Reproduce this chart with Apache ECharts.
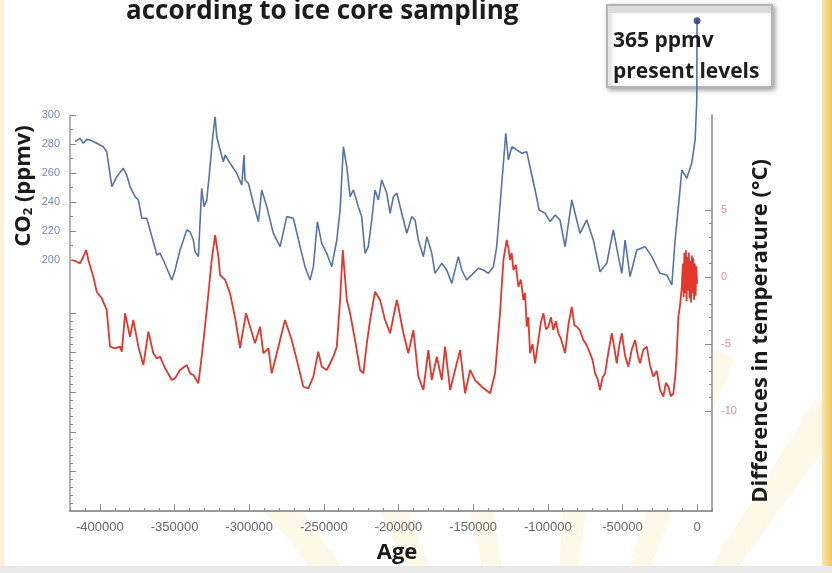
<!DOCTYPE html>
<html><head><meta charset="utf-8">
<script src="https://cdn.jsdelivr.net/npm/echarts@6/dist/echarts.min.js"></script>
<style>html,body{margin:0;padding:0;background:#fff}#c{width:832px;height:573px}</style>
</head><body><div id="c"></div>
<script>
// ---------------- DATA ----------------
const titleText = 'according to ice core sampling';
const xAxisTitle = 'Age';
const tempTitle = 'Differences in temperature (°C)';
const noteLines = ['365 ppmv', 'present levels'];
const ageTicks = [-400000, -350000, -300000, -250000, -200000, -150000, -100000, -50000, 0];
const co2TickLabels = [200, 220, 240, 260, 280, 300];
const tempTickLabels = [-10, -5, 0, 5];

const co2Ages = [-416600,-413300,-411100,-408800,-406600,-402100,-397700,-395400,-392000,-388700,
 -384300,-382000,-379800,-376400,-374200,-371900,-368600,-366400,-363000,-361900,
 -359700,-357500,-351800,-349600,-346300,-341800,-339600,-337400,-336200,-334000,
 -332900,-331800,-330200,-328400,-326200,-324400,-322800,-321700,-320000,-317300,
 -316100,-312800,-308300,-305000,-303400,-302800,-300500,-297200,-293800,-291600,
 -288200,-283800,-279300,-274800,-270400,-265900,-262600,-259200,-257000,-254300,
 -251400,-248000,-244700,-241300,-239100,-236900,-234600,-232400,-230200,-226900,
 -224600,-222400,-220200,-217900,-215700,-213500,-211200,-207800,-205600,-203400,
 -201100,-197800,-194400,-191100,-188900,-186700,-183300,-181000,-177700,-175500,
 -171000,-167700,-164300,-159900,-157600,-154300,-150900,-146500,-143100,-139800,
 -136400,-134200,-130800,-128100,-126400,-124100,-120800,-117400,-114100,-111900,
 -108500,-105800,-101800,-98500,-95100,-91800,-88400,-83900,-78400,-73900,
 -69500,-65000,-60500,-56100,-52700,-50400,-48200,-44900,-40400,-34800,
 -30300,-24800,-20300,-16900,-14700,-12500,-10200,-6900,-3600,-1300,-200,0];
const co2Values = [281.6,283.9,280.5,283.2,282.8,280.5,278.1,274.7,250.6,257.4,
 263.2,258.6,250.6,243.7,241.4,228.8,228.8,220.7,208.1,203.4,
 204.6,200.0,186.2,193.1,206.9,220.7,219.5,213.8,205.7,202.3,
 201.2,249.4,236.8,241.4,264.3,285.0,298.8,285.0,278.1,267.8,
 272.4,266.7,259.8,251.7,272.4,255.2,252.9,239.1,226.4,248.3,
 236.8,218.4,209.2,229.9,228.8,209.2,195.4,186.2,195.4,226.4,
 211.5,204.6,195.4,213.8,234.5,278.1,264.3,243.7,248.3,236.8,
 229.9,204.6,209.2,227.6,248.3,241.4,255.2,246.0,232.2,243.7,
 246.0,232.2,218.4,229.9,227.6,213.8,202.3,216.1,204.6,190.8,
 197.7,193.1,183.9,202.3,193.1,186.2,189.7,194.3,193.1,190.8,
 195.4,209.2,252.9,287.4,269.0,278.1,275.9,273.6,274.7,264.3,
 248.3,234.5,232.2,226.4,231.0,227.6,209.2,241.4,218.4,227.6,
 213.8,191.9,197.7,220.7,202.3,190.8,213.8,188.5,206.9,209.2,
 202.3,190.8,189.7,182.8,213.8,236.8,262.1,256.3,266.7,282.8,310.3,365];

const tempAges = [-418800,-415500,-413300,-411100,-409200,-407700,-404400,-402100,-398700,-395400,
 -393200,-389800,-386500,-385300,-383100,-379800,-377600,-374200,-370900,-367500,
 -364200,-361900,-359700,-356300,-351800,-349600,-346300,-341800,-339600,-337400,
 -334000,-331800,-328400,-325100,-322800,-320600,-319500,-316100,-312800,-309400,
 -306100,-302100,-299400,-296100,-292700,-290500,-287100,-284900,-281500,-276000,
 -271500,-267000,-263700,-260400,-257000,-253700,-251400,-248000,-243600,-241300,
 -239100,-237300,-234600,-232400,-229100,-225700,-223500,-221200,-219000,-215700,
 -212300,-209000,-205600,-201100,-200100,-196700,-193400,-190000,-186700,-183300,
 -180000,-177700,-174300,-171000,-168800,-165400,-162100,-158700,-155400,-152000,
 -148700,-144200,-138600,-135300,-132000,-129700,-127500,-126400,-125300,-124200,
 -123000,-121400,-119700,-118000,-116300,-115200,-114100,-113000,-111900,-110200,
 -108500,-107400,-106300,-104600,-102900,-101200,-99600,-97900,-96300,-94600,
 -92900,-91200,-89600,-88400,-86100,-83900,-82200,-80600,-78400,-76200,
 -73900,-71700,-70000,-68300,-66600,-65000,-63300,-61600,-59400,-57100,
 -55400,-53800,-52100,-50400,-48200,-46000,-43700,-41500,-39800,-38200,
 -35900,-33700,-31500,-29300,-27000,-24800,-22600,-20900,-19200,-17500,
 -15900,-14700,-13600,-12500,-11300,-10200,-9500,-9000,-8500,-8000,
 -7500,-7000,-6500,-6000,-5500,-5000,-4500,-4000,-3500,-3000,
 -2500,-2000,-1500,-1000,-500,0];
const tempValues = [1.27,1.14,1.02,1.51,2.01,1.27,0.02,-1.10,-1.59,-2.46,
 -5.2,-5.32,-5.2,-5.57,-2.71,-4.46,-3.21,-5.2,-6.57,-4.08,
 -5.69,-6.07,-5.95,-6.81,-7.69,-7.56,-6.94,-6.57,-7.19,-7.31,
 -7.93,-5.95,-2.46,1.27,3.13,1.51,0.15,-0.22,-1.22,-3.06,
 -5.3,-2.71,-3.71,-4.95,-3.71,-5.69,-5.32,-7.19,-5.69,-3.21,
 -4.70,-6.69,-8.19,-8.31,-7.44,-5.57,-6.69,-6.94,-5.95,-5.2,
 -1.72,2.01,-1.72,-2.71,-4.70,-6.94,-7.19,-4.95,-3.21,-1.10,
 -1.72,-3.21,-4.20,-1.72,-2.22,-4.20,-5.69,-3.96,-7.44,-8.43,
 -5.45,-7.69,-5.95,-7.69,-5.2,-8.43,-6.94,-5.45,-8.68,-6.94,
 -7.69,-8.19,-8.68,-7.19,-2.71,1.27,2.76,2.2,1.27,1.8,
 0.52,0.9,-0.72,-0.2,-1.72,-1.2,-3.71,-3.0,-5.69,-5.0,
 -6.44,-5.6,-4.70,-3.4,-2.71,-3.9,-3.71,-3.0,-3.96,-3.3,
 -4.20,-4.6,-5.2,-5.69,-3.5,-2.22,-3.6,-3.71,-4.0,-4.70,
 -5.1,-5.69,-6.2,-7.19,-7.6,-8.43,-7.5,-7.19,-5.6,-4.20,
 -5.3,-6.44,-5.1,-4.20,-5.9,-6.69,-5.4,-4.70,-5.8,-6.44,
 -5.4,-5.2,-6.6,-7.44,-7.0,-8.43,-8.93,-7.9,-8.19,-8.9,
 -8.68,-7.5,-5.69,-2.96,-2.0,-0.72,1.0,-1.5,1.8,-1.2,
 2.0,-1.8,1.5,-1.0,1.8,-1.6,1.2,-1.9,1.6,-1.2,
 1.4,-1.7,1.0,-1.4,0.8,-0.5];

// ---------------- CHART ----------------
const GL = 70, GR = 712, GT = 115, GB = 511;
const co2Max = 300, co2Min = co2Max - (GB - GT) / 1.45;
const tMax = (277 - GT) / 13.4, tMin = (277 - GB) / 13.4;
const lowStep = 39.6 / 1.45;
const leftMajor = [], leftMinor = [];
for (let k = 1; k <= 5; k++) leftMajor.push(co2Min + k * lowStep);
for (let j = 1; j < 25; j++) if (j % 5) leftMinor.push(co2Min + j * lowStep / 5);
co2TickLabels.forEach(v => leftMajor.push(v));
for (let v = 210; v < 300; v += 20) leftMinor.push(v);
const rightMinor = [];
for (let v = -9; v < 5; v++) if (v % 5) rightMinor.push(v);

const zip = (a, b) => a.map((x, i) => [x, b[i]]);
const co2Data = zip(co2Ages, co2Values);
const tempData = zip(tempAges, tempValues);
const lastCo2 = co2Data[co2Data.length - 1];

const bold = '"Open Sans", "Noto Sans", sans-serif';
const chart = echarts.init(document.getElementById('c'), null, {renderer: 'canvas'});

function baseY(min, max, pos) {
  return {type: 'value', min: min, max: max, position: pos, splitLine: {show: false},
    axisLine: {show: false, onZero: false}, axisLabel: {show: false}, axisTick: {show: false}};
}
const y0 = baseY(co2Min, co2Max, 'left');
y0.axisLine = {show: true, onZero: false, lineStyle: {color: '#9a9a9a', width: 1.5}};
y0.axisTick = {show: true, inside: true, length: 6, customValues: leftMajor, lineStyle: {color: '#8a8a8a'}};
y0.axisLabel = {show: true, customValues: co2TickLabels, color: '#7389bd', fontSize: 11, margin: 10, fontFamily: 'Liberation Sans'};
const y1 = baseY(tMin, tMax, 'right');
y1.axisLine = {show: true, onZero: false, lineStyle: {color: '#a8a8a8', width: 2}};
y1.axisTick = {show: true, inside: true, length: 7, customValues: tempTickLabels, lineStyle: {color: '#8a8a8a'}};
y1.axisLabel = {show: true, customValues: tempTickLabels, color: '#e58c8c', fontSize: 11, margin: 9, fontFamily: 'Liberation Sans'};
const y2 = baseY(co2Min, co2Max, 'left');
y2.axisTick = {show: true, inside: true, length: 3, customValues: leftMinor, lineStyle: {color: '#8a8a8a'}};
const y3 = baseY(tMin, tMax, 'right');
y3.axisTick = {show: true, inside: true, length: 3, customValues: rightMinor, lineStyle: {color: '#8a8a8a'}};

// decorative sunburst rays (background)
const rays = [];
const cx = 540, cy = 840;
[[-40, -36], [-26, -22], [-12, -8], [4, 8], [18, 22], [32, 36], [46, 50], [60, 64]].forEach(([a, b]) => {
  const r = 520, ra = a * Math.PI / 180, rb = b * Math.PI / 180;
  rays.push({type: 'polygon', z: -5, silent: true,
    shape: {points: [[cx, cy], [cx + r * Math.sin(ra), cy - r * Math.cos(ra)], [cx + r * Math.sin(rb), cy - r * Math.cos(rb)]]},
    style: {fill: 'rgba(248,214,110,0.16)'}});
});

const option = {
  animation: false,
  backgroundColor: '#ffffff',
  grid: {left: GL, top: GT, width: GR - GL, height: GB - GT, outerBoundsMode: 'none'},
  xAxis: [
    {type: 'value', min: -420000, max: 10000, position: 'bottom', splitLine: {show: false},
     axisLine: {show: true, onZero: false, lineStyle: {color: '#7a7a7a', width: 1.5}},
     axisTick: {show: true, inside: true, length: 7, customValues: ageTicks, lineStyle: {color: '#8a8a8a'}},
     axisLabel: {customValues: ageTicks, formatter: v => String(v), color: '#666666', fontSize: 13, margin: 10, fontFamily: 'Liberation Sans'}},
    {type: 'value', min: -420000, max: 10000, interval: 10000, position: 'bottom', splitLine: {show: false},
     axisLine: {show: false, onZero: false}, axisLabel: {show: false},
     axisTick: {show: true, inside: true, length: 3, lineStyle: {color: '#8a8a8a'}}}
  ],
  yAxis: [y0, y1, y2, y3],
  graphic: [
    ...rays,
    {type: 'rect', z: -4, silent: true, shape: {x: GL, y: GT - 10, width: GR - GL, height: GB - GT + 10}, style: {fill: '#fff'}},
    {type: 'rect', z: -3, silent: true, shape: {x: 0, y: 0, width: 4, height: 573}, style: {fill: '#fbf1d6'}},
    {type: 'rect', z: -3, silent: true, shape: {x: 822, y: 0, width: 10, height: 573},
     style: {fill: new echarts.graphic.LinearGradient(0, 0, 1, 0, [{offset: 0, color: '#f7e6b0'}, {offset: 1, color: '#f0c65a'}])}},
    {type: 'rect', z: -3, silent: true, shape: {x: 0, y: 566, width: 832, height: 7}, style: {fill: '#e8e8e8'}},
    {type: 'text', z: 10, x: 126, y: 12, style: {text: titleText, font: 'bold 26px ' + bold, fill: '#1c1c1c', verticalAlign: 'middle'}},
    // annotation box
    {type: 'rect', z: 0, shape: {x: 607, y: 5, width: 165, height: 82},
     style: {fill: '#ffffff', stroke: '#b4b4b4', lineWidth: 2, shadowBlur: 5, shadowColor: 'rgba(0,0,0,0.35)', shadowOffsetX: 2, shadowOffsetY: 2}},
    {type: 'rect', z: 1, shape: {x: 608, y: 6, width: 163, height: 7}, style: {fill: '#dcdcdc'}},
    {type: 'text', z: 10, x: 613, y: 41, style: {text: noteLines[0], font: 'bold 21px ' + bold, fill: '#1e1e1e', verticalAlign: 'middle'}},
    {type: 'text', z: 10, x: 613, y: 72, style: {text: noteLines[1], font: 'bold 21px ' + bold, fill: '#1e1e1e', verticalAlign: 'middle'}},
    // axis titles
    {type: 'text', z: 10, x: 397, y: 553, style: {text: xAxisTitle, font: 'bold 22px ' + bold, fill: '#1a1a1a', align: 'center', verticalAlign: 'middle'}},
    {type: 'text', z: 10, x: 761, y: 331, rotation: Math.PI / 2,
     style: {text: tempTitle, font: 'bold 22px ' + bold, fill: '#1a1a1a', align: 'center', verticalAlign: 'middle'}},
    {type: 'text', z: 10, x: 24, y: 186, rotation: Math.PI / 2,
     style: {text: '{a|CO}{s|2}{a| (ppmv)}', align: 'center', verticalAlign: 'middle',
       rich: {a: {fontSize: 22, fontWeight: 'bold', fontFamily: bold, fill: '#1a1a1a', lineHeight: 22},
              s: {fontSize: 13, fontWeight: 'bold', fontFamily: bold, fill: '#1a1a1a', lineHeight: 6, verticalAlign: 'bottom'}}}}
  ],
  series: [
    {type: 'line', name: 'CO2', xAxisIndex: 0, yAxisIndex: 0, data: co2Data, showSymbol: false, clip: false, z: 3,
     lineStyle: {color: '#5673a9', width: 1.6}},
    {type: 'line', name: 'Temperature', xAxisIndex: 0, yAxisIndex: 1, data: tempData, showSymbol: false, z: 3,
     lineStyle: {color: '#e3362c', width: 1.8}},
    {type: 'scatter', name: 'Present', xAxisIndex: 0, yAxisIndex: 0, data: [lastCo2], symbolSize: 7, clip: false, z: 5,
     itemStyle: {color: '#2a2e7c'}}
  ]
};
chart.setOption(option);
</script></body></html>
